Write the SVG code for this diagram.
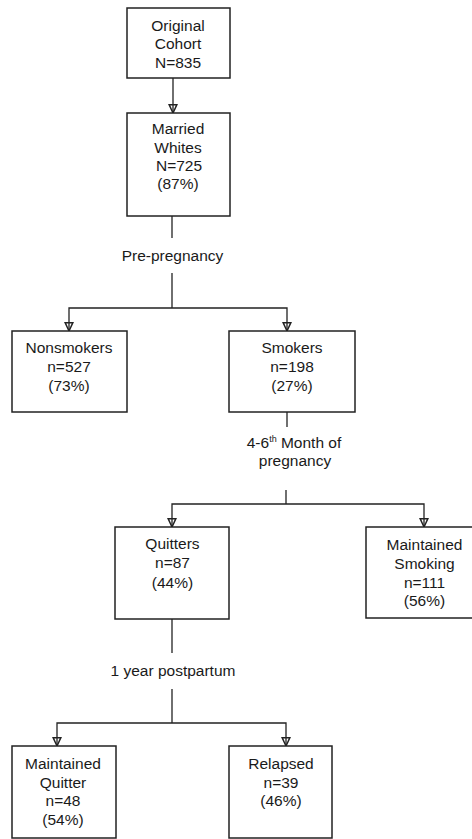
<svg xmlns="http://www.w3.org/2000/svg" width="472" height="839" viewBox="0 0 472 839">
<style>
.box{fill:#fff;stroke:#222;stroke-width:1.5}
.ln{fill:none;stroke:#222;stroke-width:1.3}
text{font-family:"Liberation Sans",Arial,sans-serif;font-size:15.5px;fill:#1a1a1a;text-anchor:middle}
.sup{font-size:9px}
</style>
<defs>
<marker id="arr" markerUnits="userSpaceOnUse" markerWidth="10" markerHeight="10" refX="8" refY="4" orient="auto-start-reverse" viewBox="0 0 9 8">
<path d="M0.5,0.5 L8,4 L0.5,7.5 Z" fill="none" stroke="#222" stroke-width="1.3"/>
</marker>
</defs>
<rect width="472" height="839" fill="#fff"/>
<g id="connectors">
<line class="ln" x1="173" y1="78" x2="173" y2="113" marker-end="url(#arr)"/>
<line class="ln" x1="172" y1="216" x2="172" y2="238"/>
<polyline class="ln" points="172,273 172,308"/>
<polyline class="ln" points="69,331 69,308 287,308 287,331" marker-start="url(#arr)" marker-end="url(#arr)"/>
<line class="ln" x1="287" y1="412" x2="287" y2="427"/>
<line class="ln" x1="286" y1="490" x2="286" y2="504"/>
<polyline class="ln" points="172,527 172,504 424,504 424,527" marker-start="url(#arr)" marker-end="url(#arr)"/>
<line class="ln" x1="172" y1="619" x2="172" y2="653"/>
<line class="ln" x1="172" y1="689" x2="172" y2="723"/>
<polyline class="ln" points="57,746 57,723 286,723 286,746" marker-start="url(#arr)" marker-end="url(#arr)"/>
</g>
<g id="original-cohort">
<rect class="box" x="127" y="8" width="103" height="70"/>
<text x="178" y="30.5">Original</text>
<text x="178" y="48.5">Cohort</text>
<text x="178" y="67.5">N=835</text>
</g>
<g id="married-whites">
<rect class="box" x="127" y="113" width="103" height="103"/>
<text x="178" y="133.5">Married</text>
<text x="178" y="152.5">Whites</text>
<text x="179" y="170.5">N=725</text>
<text x="178" y="188.5">(87%)</text>
</g>
<g id="label-prepregnancy">
<text x="172.5" y="260.5">Pre-pregnancy</text>
</g>
<g id="nonsmokers">
<rect class="box" x="12" y="331" width="115" height="81"/>
<text x="69" y="352.5">Nonsmokers</text>
<text x="69" y="371.5">n=527</text>
<text x="69" y="390.5">(73%)</text>
</g>
<g id="smokers">
<rect class="box" x="229" y="331" width="126" height="81"/>
<text x="292" y="352.5">Smokers</text>
<text x="292" y="371.5">n=198</text>
<text x="292" y="390.5">(27%)</text>
</g>
<g id="label-month">
<text x="294" y="447.5">4-6<tspan class="sup" dy="-6">th</tspan><tspan dy="6"> Month of</tspan></text>
<text x="295" y="465.5">pregnancy</text>
</g>
<g id="quitters">
<rect class="box" x="115" y="527" width="114" height="92"/>
<text x="172.5" y="548.5">Quitters</text>
<text x="172.5" y="567.5">n=87</text>
<text x="172.5" y="587.5">(44%)</text>
</g>
<g id="maintained-smoking">
<rect class="box" x="366" y="527" width="112" height="91"/>
<text x="424.5" y="549.5">Maintained</text>
<text x="424.5" y="568.5">Smoking</text>
<text x="424.5" y="587.5">n=111</text>
<text x="424.5" y="605.5">(56%)</text>
</g>
<g id="label-postpartum">
<text x="173" y="675.5">1 year postpartum</text>
</g>
<g id="maintained-quitter">
<rect class="box" x="12" y="746" width="104" height="92"/>
<text x="63" y="768.5">Maintained</text>
<text x="63" y="787.5">Quitter</text>
<text x="63" y="805.5">n=48</text>
<text x="63" y="824.5">(54%)</text>
</g>
<g id="relapsed">
<rect class="box" x="229" y="746" width="103" height="92"/>
<text x="281" y="768.5">Relapsed</text>
<text x="281" y="787.5">n=39</text>
<text x="281" y="805.5">(46%)</text>
</g>
</svg>
